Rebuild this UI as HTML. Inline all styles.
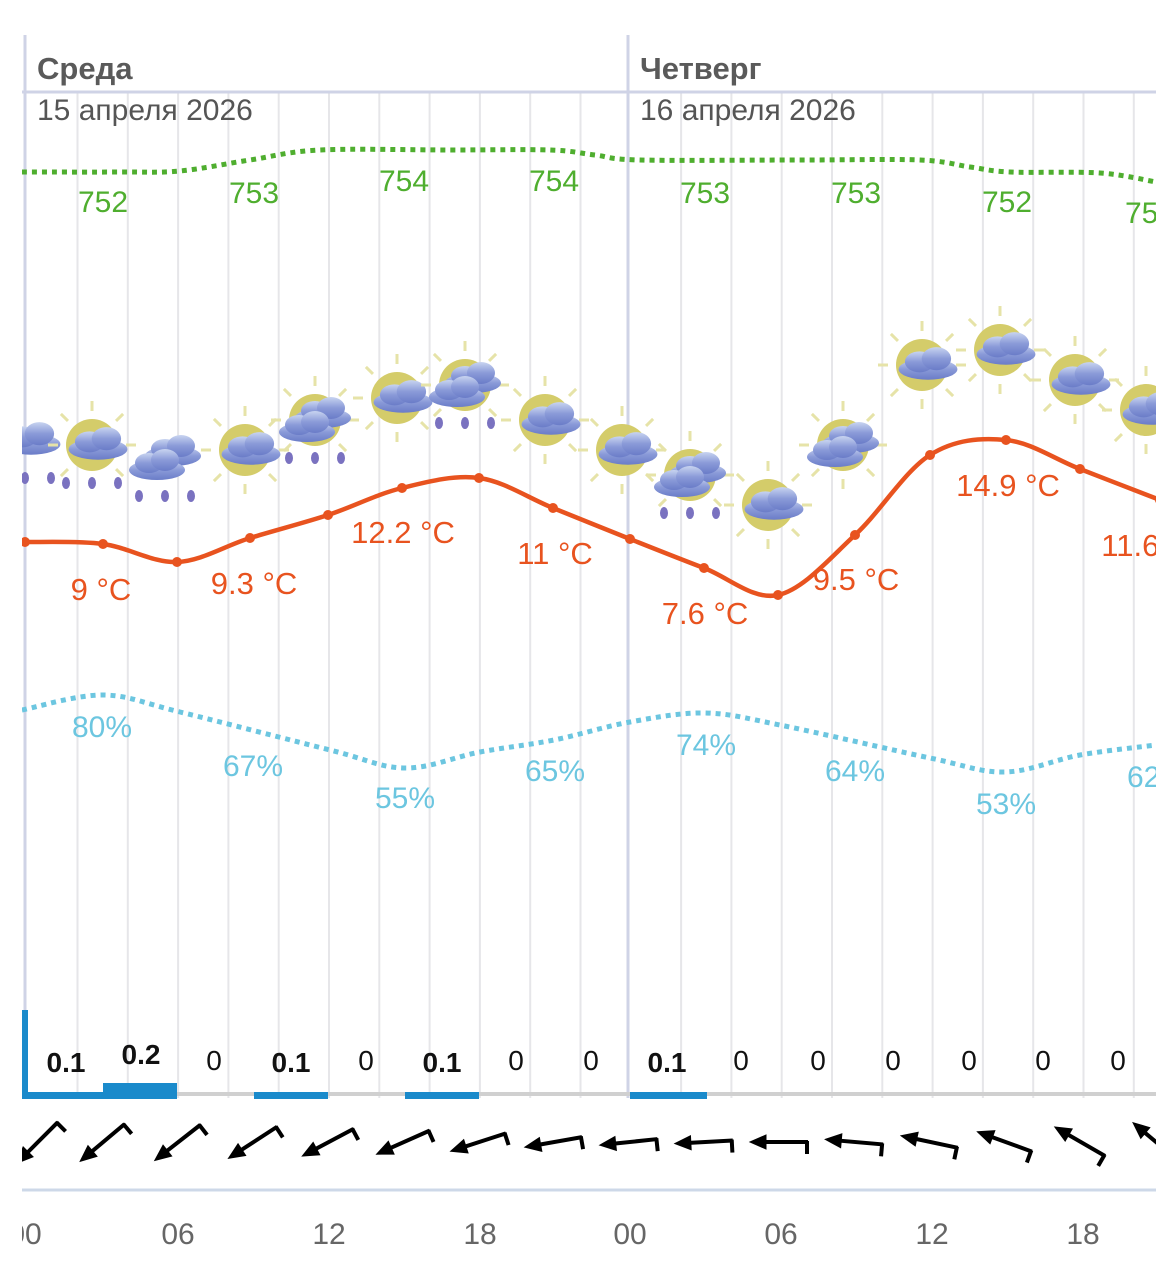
<!DOCTYPE html>
<html><head><meta charset="utf-8"><style>
html,body{margin:0;padding:0;background:#fff;}
svg{display:block;font-family:"Liberation Sans",sans-serif;}
</style></head><body>
<svg id="s" width="1156" height="1280" viewBox="0 0 1156 1280" xmlns="http://www.w3.org/2000/svg">
<defs>
<linearGradient id="cg" x1="0" y1="0" x2="0" y2="1"><stop offset="0" stop-color="#c8d4f0"/><stop offset="0.5" stop-color="#8a9ad8"/><stop offset="1" stop-color="#6a7cc8"/></linearGradient>
</defs>
<g id="grid" stroke="#e6e6e9" stroke-width="2"></g>
<line x1="25" y1="35" x2="25" y2="1098" stroke="#cfd3e6" stroke-width="3"/>
<line x1="628" y1="35" x2="628" y2="1098" stroke="#cfd3e6" stroke-width="3"/>
<line x1="22" y1="92" x2="1156" y2="92" stroke="#cfd3e6" stroke-width="3"/>
<text x="37" y="79" font-size="31" font-weight="bold" fill="#5a5a5a">Среда</text>
<text x="640" y="79" font-size="31" font-weight="bold" fill="#5a5a5a">Четверг</text>
<text x="37" y="120" font-size="30" fill="#555">15 апреля 2026</text>
<text x="640" y="120" font-size="30" fill="#555">16 апреля 2026</text>
<g id="icons"></g>
<path id="pres" fill="none" stroke="#4fae2f" stroke-width="5" stroke-dasharray="5 5"/>
<path id="hum" fill="none" stroke="#6cc6e0" stroke-width="5" stroke-dasharray="5 5"/>
<path id="temp" fill="none" stroke="#e8531f" stroke-width="4.5"/>
<g id="tdots" fill="#e8531f"></g>
<g font-size="30" fill="#4fae2f" text-anchor="middle">
<text x="103" y="212">752</text><text x="254" y="203">753</text><text x="404" y="191">754</text><text x="554" y="191">754</text><text x="705" y="203">753</text><text x="856" y="203">753</text><text x="1007" y="212">752</text><text x="1150" y="223">752</text>
</g>
<g font-size="30" fill="#6cc6e0" text-anchor="middle">
<text x="102" y="737">80%</text><text x="253" y="776">67%</text><text x="405" y="808">55%</text><text x="555" y="781">65%</text><text x="706" y="755">74%</text><text x="855" y="781">64%</text><text x="1006" y="814">53%</text><text x="1157" y="787">62%</text>
</g>
<g font-size="31" fill="#e8531f" text-anchor="middle">
<text x="101" y="600">9 °C</text><text x="254" y="594">9.3 °C</text><text x="403" y="543">12.2 °C</text><text x="555" y="564">11 °C</text><text x="705" y="624">7.6 °C</text><text x="856" y="590">9.5 °C</text><text x="1008" y="496">14.9 °C</text><text x="1152" y="556">11.6 °C</text>
</g>
<line x1="22" y1="1094" x2="1156" y2="1094" stroke="#d0d0d0" stroke-width="4"/>
<g fill="#1a8acb">
<rect x="22" y="1010" width="6" height="88"/>
<rect x="22" y="1092" width="81" height="7"/>
<rect x="103" y="1083" width="74" height="16"/>
<rect x="254" y="1092" width="74" height="7"/>
<rect x="405" y="1092" width="74" height="7"/>
<rect x="630" y="1092" width="77" height="7"/>
</g>
<g font-size="28" fill="#111" text-anchor="middle">
<text x="66" y="1072" font-weight="bold">0.1</text><text x="141" y="1064" font-weight="bold">0.2</text><text x="214" y="1070">0</text><text x="291" y="1072" font-weight="bold">0.1</text><text x="366" y="1070">0</text><text x="442" y="1072" font-weight="bold">0.1</text><text x="516" y="1070">0</text><text x="591" y="1070">0</text><text x="667" y="1072" font-weight="bold">0.1</text><text x="741" y="1070">0</text><text x="818" y="1070">0</text><text x="893" y="1070">0</text><text x="969" y="1070">0</text><text x="1043" y="1070">0</text><text x="1118" y="1070">0</text>
</g>
<g id="wind"></g>
<line x1="22" y1="1190" x2="1156" y2="1190" stroke="#cdd8e8" stroke-width="3"/>
<g font-size="30" fill="#666" text-anchor="middle">
<text x="25" y="1244">00</text><text x="178" y="1244">06</text><text x="329" y="1244">12</text><text x="480" y="1244">18</text><text x="630" y="1244">00</text><text x="781" y="1244">06</text><text x="932" y="1244">12</text><text x="1083" y="1244">18</text>
</g>
<rect x="0" y="0" width="22" height="1280" fill="#fff"/>
</svg>
<script>
const NS="http://www.w3.org/2000/svg";
function el(t,a,p){const e=document.createElementNS(NS,t);for(const k in a)e.setAttribute(k,a[k]);p.appendChild(e);return e;}
function cr(pts){let d="M"+pts[0][0]+","+pts[0][1];for(let i=0;i<pts.length-1;i++){const p0=pts[i-1]||pts[i],p1=pts[i],p2=pts[i+1],p3=pts[i+2]||p2;
const c1=[p1[0]+(p2[0]-p0[0])/6,p1[1]+(p2[1]-p0[1])/6],c2=[p2[0]-(p3[0]-p1[0])/6,p2[1]-(p3[1]-p1[1])/6];
d+=" C"+c1+" "+c2+" "+p2;}return d;}
const g=document.getElementById("grid");
for(let x=77.5;x<1156;x+=50.3){if(Math.abs(x-628)>5)el("line",{x1:x,y1:92,x2:x,y2:1098},g);}
const T=[[25,542],[103,544],[177,562],[250,538],[328,515],[402,488],[479,478],[553,508],[630,539],[704,568],[778,595],[855,535],[930,455],[1006,440],[1080,469],[1160,500]];
document.getElementById("temp").setAttribute("d",cr(T));
const td=document.getElementById("tdots");T.forEach(p=>el("circle",{cx:p[0],cy:p[1],r:5},td));
document.getElementById("pres").setAttribute("d",cr([[22,172],[120,172],[180,171],[250,160],[320,150],[450,150],[550,150],[595,155],[640,160],[800,160],[920,160],[970,167],[1010,172],[1100,173],[1156,182]]));
document.getElementById("hum").setAttribute("d",cr([[22,710],[103,695],[180,712],[330,750],[405,768],[480,752],[554,740],[630,722],[705,713],[780,725],[930,758],[1005,772],[1080,755],[1156,745]]));
const ic=document.getElementById("icons");
function sun(x,y){const s=el("g",{stroke:"#e6e3a8","stroke-width":3},ic);for(let a=0;a<360;a+=45){const r=a*Math.PI/180;el("line",{x1:x+Math.cos(r)*34,y1:y+Math.sin(r)*34,x2:x+Math.cos(r)*44,y2:y+Math.sin(r)*44},s);}el("circle",{cx:x,cy:y,r:26,fill:"#d4cc6a"},ic);}
function cloud(x,y,sc){sc=sc||1;const c=el("g",{fill:"url(#cg)",transform:"translate("+x+","+y+") scale("+sc+")"},ic);
el("ellipse",{cx:0,cy:4,rx:28,ry:10},c);el("ellipse",{cx:-8,cy:-3,rx:14,ry:10},c);el("ellipse",{cx:8,cy:-6,rx:14,ry:11},c);}
function rain(x,y){for(let i=-1;i<=1;i++){el("ellipse",{cx:x+i*26,cy:y,rx:4,ry:6,fill:"#7a72c0"},ic);}}
const I=[[25,440,0,1,1],[92,445,1,1,1],[165,458,0,2,1],[245,450,1,1,0],[315,420,1,2,1],[397,398,1,1,0],[465,385,1,2,1],[545,420,1,1,0],[622,450,1,1,0],[690,475,1,2,1],[768,505,1,1,0],[843,445,1,2,0],[922,365,1,1,0],[1000,350,1,1,0],[1075,380,1,1,0],[1146,410,1,1,0]];
I.forEach(a=>{const[x,y,s,c,r]=a;if(s)sun(x,y);if(c==2){cloud(x+8,y-6,1);cloud(x-8,y+8,1);}else cloud(x+6,y,1.05);if(r)rain(x,y+38);});
const w=document.getElementById("wind");
const A=[-45,-40,-38,-33,-28,-24,-18,-10,-6,-3,0,5,12,20,30,40];
A.forEach((a,i)=>{const cx=i==0?38:28+i*75.2;const grp=el("g",{transform:"translate("+cx+",1142) rotate("+a+")",stroke:"#000","stroke-width":4,fill:"#000"},w);
el("line",{x1:-18,y1:0,x2:28,y2:0},grp);el("line",{x1:27,y1:-1,x2:27,y2:12},grp);el("polygon",{points:"-30,0 -14,-7 -14,7","stroke-width":1},grp);});
</script>
</body></html>
